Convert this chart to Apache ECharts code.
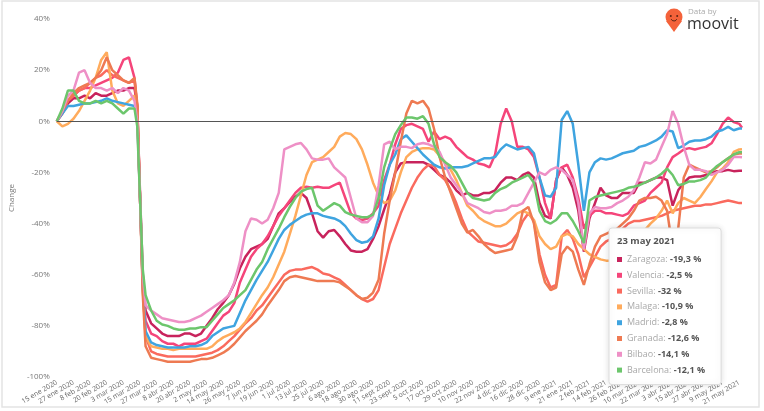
<!DOCTYPE html>
<html>
<head>
<meta charset="utf-8">
<title>Movilidad ciudades</title>
<script src="https://cdn.jsdelivr.net/npm/echarts@6/dist/echarts.min.js"></script>
<style>
  html, body { margin: 0; padding: 0; background: #fff; }
  #chart { width: 764px; height: 411px; }
</style>
</head>
<body>
<div id="chart"></div>
<script>
// days since 15 ene 2020
const days = [
  0, 4, 8, 12, 16, 20, 24, 28, 32, 36,
  40, 44, 48, 52, 56, 58, 60, 62, 64, 68,
  72, 76, 80, 84, 88, 92, 96, 100, 104, 108,
  112, 116, 120, 124, 128, 132, 136, 140, 144, 148,
  152, 156, 160, 164, 168, 172, 176, 180, 184, 188,
  192, 196, 200, 204, 208, 212, 216, 220, 224, 228,
  232, 236, 240, 244, 248, 252, 256, 260, 264, 268,
  272, 276, 280, 284, 288, 292, 296, 300, 304, 308,
  312, 316, 320, 324, 328, 332, 336, 340, 344, 348,
  352, 356, 360, 364, 368, 372, 376, 380, 384, 388,
  392, 396, 400, 404, 408, 412, 416, 420, 424, 428,
  432, 436, 440, 444, 448, 452, 456, 460, 464, 468,
  472, 476, 480, 484, 488, 492, 494
];

// one label every 12 days
const tickLabels = [
  "15 ene 2020", "27 ene 2020", "8 feb 2020", "20 feb 2020", "3 mar 2020", "15 mar 2020",
  "27 mar 2020", "8 abr 2020", "20 abr 2020", "2 may 2020", "14 may 2020", "26 may 2020",
  "7 jun 2020", "19 jun 2020", "1 jul 2020", "13 jul 2020", "25 jul 2020", "6 ago 2020",
  "18 ago 2020", "30 ago 2020", "11 sept 2020", "23 sept 2020", "5 oct 2020", "17 oct 2020",
  "29 oct 2020", "10 nov 2020", "22 nov 2020", "4 dic 2020", "16 dic 2020", "28 dic 2020",
  "9 ene 2021", "21 ene 2021", "2 feb 2021", "14 feb 2021", "26 feb 2021", "10 mar 2021",
  "22 mar 2021", "3 abr 2021", "15 abr 2021", "27 abr 2021", "9 may 2021", "21 may 2021"
];

const tipDate = "23 may 2021";
const cities = ["Zaragoza", "Valencia", "Sevilla", "Malaga", "Madrid", "Granada", "Bilbao", "Barcelona"];

const zaragoza = [
  0, 3, 7, 9, 9, 10, 9, 11, 10, 10,
  11, 12, 12, 13, 13, 6, -28, -60, -74, -79,
  -81, -83, -84, -84, -84, -83, -83, -84, -83, -80,
  -77, -73.5, -71, -68, -63.5, -57.5, -53, -50, -49, -48,
  -46, -41, -36, -34, -31.5, -29.5, -28, -30, -36, -43,
  -45.5, -43, -42.5, -45, -48, -50.5, -51, -51, -50, -46,
  -41, -34.5, -28.5, -20, -16.5, -16, -16, -16, -16, -17,
  -19, -21, -22, -24, -27, -29, -28, -29, -29, -28,
  -28, -27, -24, -22, -22, -23, -21, -20, -22, -32,
  -37, -38, -23, -18, -21, -26, -35, -51, -38, -32,
  -26, -29, -30, -30, -28, -28, -28, -24, -24, -23,
  -22, -22, -23, -33, -27, -24, -22, -21.6, -21.6, -21,
  -20, -19.5, -19.5, -19, -19.5, -19.3, -19.3
];
const valencia = [
  0, 4, 8, 10, 12, 13, 13, 14, 15, 16,
  17, 19, 24, 25, 17, 5, -30, -64, -78, -83,
  -84, -86, -87, -87, -88, -87, -87, -87, -86, -85,
  -82, -79, -76, -74.5, -71, -63, -58, -53, -50, -48,
  -45, -41, -37, -34, -31, -28, -26, -25.6, -26, -25.6,
  -26, -26, -25, -24, -30, -36, -38, -38.6, -38, -36,
  -33, -23, -17, -9, -3, -1.5, -1, -2, -3, -8,
  -4, -7, -6, -7, -10, -12, -14, -15, -16.5, -17,
  -18, -13, -1, 5, 0, -10, -10, -11, -14, -22,
  -32, -38, -23, -18, -17, -22, -30, -42, -37, -35,
  -35, -36, -36, -36.5, -37, -36, -33, -32, -31, -28,
  -26, -24, -18, -14, -12.6, -11, -10.5, -11, -10.5, -10,
  -8.6, -5, -1, 1.5, -0.3, -1, -2.5
];
const sevilla = [
  0, 4, 8, 10, 12, 13, 15, 17, 18, 20,
  18, 17, 16, 15, 16, 6, -30, -65, -84, -90,
  -91, -91.5, -92, -92, -92, -92, -92, -92, -91.5, -91,
  -90.5, -89.5, -88, -86, -84, -81.5, -79, -77, -74, -72,
  -69, -66, -63, -60, -58.5, -58, -58, -57.5, -57, -58,
  -59.5, -60, -61, -62, -64, -66, -68, -69.5, -70.5, -69.5,
  -66, -57, -48, -42, -36, -31, -26, -22, -19, -17,
  -17.5, -21, -23, -27, -32, -38, -43, -45, -47, -47.5,
  -48, -48.5, -49, -48.5, -47, -44, -39, -36, -39, -52,
  -60, -65, -64, -45, -42.5, -46, -52, -61, -57, -53,
  -49, -47, -46, -44, -42, -40, -39, -39, -38.5, -38,
  -37.5, -37, -36, -35, -34.5, -34, -33.5, -33, -33, -32.5,
  -32.5, -32, -31.5, -31, -31.5, -32, -32
];
const malaga = [
  0, -2, -1, 1, 4, 8, 12, 17, 24, 27,
  12, 7, 6, 8, 10, 3, -30, -66, -84, -88,
  -88.5, -89, -89, -89.5, -89, -89, -89, -89, -89, -89,
  -88, -86, -84.5, -83.5, -82.5, -81, -78.5, -75, -71.5, -68,
  -65, -61, -56, -51, -44, -37, -29, -21, -16, -15,
  -14, -12, -10, -6, -4.6, -5, -7, -11, -17, -24,
  -29, -32, -31, -27, -20, -14, -12, -11, -10.5, -10.5,
  -11, -13.5, -16, -19, -23, -28, -33, -35, -37.5, -39,
  -40, -41, -41, -40, -38, -36, -35, -36, -38.6, -45,
  -48, -50, -49, -45, -44, -45, -48, -50, -52, -53,
  -54, -54.5, -54.5, -51.6, -52, -53, -49, -44, -42.5, -40,
  -38, -35, -31, -36, -32, -30, -31, -32, -29.6, -26.5,
  -23.5, -20, -18.5, -16, -12, -11, -10.9
];
const madrid = [
  0, 3, 6, 6, 6.5, 7, 7, 7.5, 8, 9,
  8, 7.5, 7, 6.5, 6, 2, -30, -65, -82, -86.5,
  -87.5, -88, -88.5, -88.5, -88.5, -88.5, -88, -88, -87.5, -86.5,
  -84, -82.5, -81, -80.5, -80, -75, -70, -66, -62, -58.5,
  -55, -50.5, -46, -42.5, -40.5, -39, -37.5, -36.5, -36, -36,
  -37, -37.5, -38, -39, -41, -44, -46.5, -47.5, -47, -45,
  -38, -25, -17, -13, -7, -5.5, -8, -10.5, -13, -15,
  -17, -18, -18.5, -18, -18, -18, -17.5, -16.5, -15.5, -14.5,
  -14.5, -14, -11, -9, -10, -11, -10.5, -10, -12.5, -22,
  -29, -29.5, -26, 0.5, 4, -1, -17, -35, -20, -16,
  -14.5, -15, -14.5, -13.5, -12.5, -12, -11.5, -10, -9.5, -8.5,
  -7.5, -6, -3.5, -4, -10.5, -9.5, -8, -7.5, -7.5, -7,
  -6, -4, -3.4, -2.2, -3.5, -2.8, -2.8
];
const granada = [
  0, 4, 8, 11, 13, 14, 15, 17, 20, 25,
  20, 18, 16, 15, 17, 7, -30, -68, -88, -92.5,
  -93, -93.5, -94, -94, -94, -94, -94, -93.5, -93, -93,
  -92.5, -91.5, -90.5, -89, -87, -84.5, -82, -80, -78, -75.5,
  -72, -69, -66, -62.5, -61, -60.5, -61, -61.5, -62, -62.5,
  -62.5, -62.5, -62.5, -63, -64.5, -66, -68, -69.5, -69, -67,
  -62, -44, -31, -20, -8, 3, 8, 7, 8, 5,
  -3, -14, -22, -28, -34, -40, -43.5, -42.5, -45, -48,
  -50, -51.5, -51, -50.5, -50, -45, -35, -33.5, -40, -55,
  -63, -66, -65, -52, -49, -51, -58, -64, -56, -49,
  -45, -44, -43, -42, -40, -38, -35, -31, -30, -30,
  -29.5, -31, -35, -50, -42, -22, -17, -18, -19, -20,
  -19.5, -18, -16, -14.5, -13, -12.6, -12.6
];
const bilbao = [
  0, 4, 10, 12, 19, 20, 15, 13, 13, 12,
  13, 11, 13, 12, 8, 0, -30, -60, -72, -74,
  -75.5, -77, -77.5, -78, -78.5, -78.5, -78, -77, -76, -74.5,
  -73, -71.5, -70, -68, -63, -55, -43, -38, -38.5, -40,
  -38.5, -34, -28, -11, -10, -9, -8.5, -11, -14.5, -15,
  -15, -14.5, -18, -20, -22, -30, -38, -39.5, -39.5, -37,
  -25, -9, -8, -11, -10, -10, -10.5, -9, -8.5, -9,
  -10, -12, -17, -22, -25, -28, -32, -33, -34, -35.5,
  -36, -35, -35, -34.5, -33, -33, -32, -28, -24, -20,
  -21, -19, -18, -19, -21, -23, -32, -50, -36, -33.5,
  -34, -34, -33.5, -32, -31, -29.5, -27, -22, -16, -16.5,
  -15, -10, -5, 4, -1, -10, -17, -19, -19, -19.5,
  -21, -20, -19, -17, -14, -14, -14.1
];
const barcelona = [
  0, 5, 12, 12, 8, 7, 7, 8, 7, 8,
  7, 5, 3, 5, 5, -2, -30, -58, -68, -74,
  -78, -79.5, -80, -81, -81.5, -81.5, -81, -81, -80.5, -80.5,
  -78, -75.5, -73, -71.5, -70, -68, -66, -62, -58, -55,
  -50, -46, -42, -37.5, -33.5, -30, -27.5, -26.5, -26, -33,
  -35, -33.5, -32, -33, -35.5, -36.5, -37, -37.5, -37.5, -36.5,
  -30, -18, -11, -5, -1.5, 1.5, 1.5, 1, 2, -1,
  -9, -14, -16, -17.5, -20, -24, -28, -30, -30.5, -31,
  -30.5, -28, -26.5, -25.6, -24, -23, -22, -21, -24, -35,
  -39, -40, -38.6, -36, -36, -39, -43, -47.6, -31, -29.6,
  -29, -28.5, -28, -27.5, -27, -26, -25.6, -25, -24, -23,
  -22, -20.5, -18.5, -21, -25, -24.5, -23.5, -23.5, -23, -22,
  -19.5, -17.5, -16, -14.5, -13, -12.1, -12.1
];

const cityValues = [zaragoza, valencia, sevilla, malaga, madrid, granada, bilbao, barcelona];
const lineColors = ["#c8235c", "#f5457a", "#fa6a5e", "#ffab5c", "#3fa4e0", "#ee7a52", "#ee90c6", "#6cc66c"];
const font = "'Open Sans', 'Noto Sans', sans-serif";

const chart = echarts.init(document.getElementById("chart"));

const series = cities.map(function (name, i) {
  const s = {
    name: name,
    type: "line",
    data: days.map(function (d, k) { return [d, cityValues[i][k]]; }),
    showSymbol: false,
    symbol: "none",
    color: lineColors[i],
    lineStyle: { width: 2.5 },
    z: 2
  };
  if (i === 0) {
    s.markLine = {
      silent: true,
      symbol: "none",
      label: { show: false },
      lineStyle: { color: "#555", width: 1, type: "solid" },
      data: [{ yAxis: 0 }]
    };
  }
  return s;
});

chart.setOption({
  animation: false,
  backgroundColor: "#fff",
  grid: { left: 48, right: 22, top: 19, bottom: 34 },
  xAxis: {
    type: "value",
    min: 0,
    max: 494,
    interval: 12,
    axisLine: { show: false },
    axisTick: { show: false },
    splitLine: { show: false },
    axisLabel: {
      rotate: 30,
      margin: 5,
      fontSize: 7,
      color: "#666",
      fontFamily: font,
      showMaxLabel: false,
      formatter: function (v) {
        return v % 12 === 0 ? (tickLabels[v / 12] || "") : "";
      }
    }
  },
  yAxis: {
    type: "value",
    min: -100,
    max: 40,
    interval: 20,
    name: "Change",
    nameLocation: "middle",
    nameGap: 34,
    nameTextStyle: { fontSize: 8, color: "#777", fontFamily: font },
    axisLine: { show: false },
    axisTick: { show: false },
    splitLine: { show: false },
    axisLabel: {
      margin: 7,
      fontSize: 8,
      color: "#777",
      fontFamily: font,
      formatter: "{value}%"
    }
  },
  title: {
    text: tipDate,
    left: 617,
    top: 236,
    padding: 0,
    textStyle: { fontSize: 9.5, fontWeight: "bold", color: "#555", fontFamily: font }
  },
  legend: {
    orient: "vertical",
    left: 609,
    top: 228,
    padding: [27, 16, 10, 8],
    itemWidth: 5,
    itemHeight: 5,
    itemGap: 6.8,
    icon: "rect",
    selectedMode: false,
    backgroundColor: "#fff",
    borderColor: "#dcdcdc",
    borderWidth: 1,
    borderRadius: 3,
    shadowBlur: 6,
    shadowColor: "rgba(0,0,0,0.12)",
    data: cities,
    formatter: function (name) {
      const vals = cityValues[cities.indexOf(name)];
      const last = vals[vals.length - 1];
      return "{n|" + name + ":} {v|" + String(last).replace(".", ",") + " %}";
    },
    textStyle: {
      fontFamily: font,
      fontSize: 9,
      color: "#999",
      rich: {
        n: { fontSize: 9, color: "#a8a8a8", lineHeight: 10, fontFamily: font },
        v: { fontSize: 9, color: "#555", fontWeight: "bold", lineHeight: 10, fontFamily: font }
      }
    }
  },
  graphic: [
    {
      type: "rect", silent: true, z: -10,
      shape: { x: 2, y: 1, width: 757, height: 406 },
      style: { fill: "none", stroke: "#e4e4e4", lineWidth: 1.5 }
    },
    {
      type: "polygon", silent: true,
      shape: { points: [[666, 21], [682, 21], [674, 32]] },
      style: { fill: "#f4623a" }
    },
    {
      type: "circle", silent: true,
      shape: { cx: 674, cy: 17, r: 8.5 },
      style: { fill: "#f4623a" }
    },
    {
      type: "circle", silent: true,
      shape: { cx: 670.8, cy: 16, r: 1 },
      style: { fill: "#5b2413" }
    },
    {
      type: "circle", silent: true,
      shape: { cx: 677.2, cy: 16, r: 1 },
      style: { fill: "#5b2413" }
    },
    {
      type: "arc", silent: true,
      shape: { cx: 674, cy: 18, r: 3, startAngle: 0.4, endAngle: Math.PI - 0.4 },
      style: { stroke: "#5b2413", lineWidth: 1, fill: "none" }
    },
    {
      type: "text", silent: true,
      style: { x: 688, y: 12, text: "Data by", fill: "#aaa", fontSize: 8, fontFamily: font, verticalAlign: "middle" }
    },
    {
      type: "text", silent: true,
      style: { x: 687, y: 24, text: "moovit", fill: "#333", fontSize: 16, fontFamily: font, verticalAlign: "middle" }
    }
  ],
  series: series
});
</script>
</body>
</html>
